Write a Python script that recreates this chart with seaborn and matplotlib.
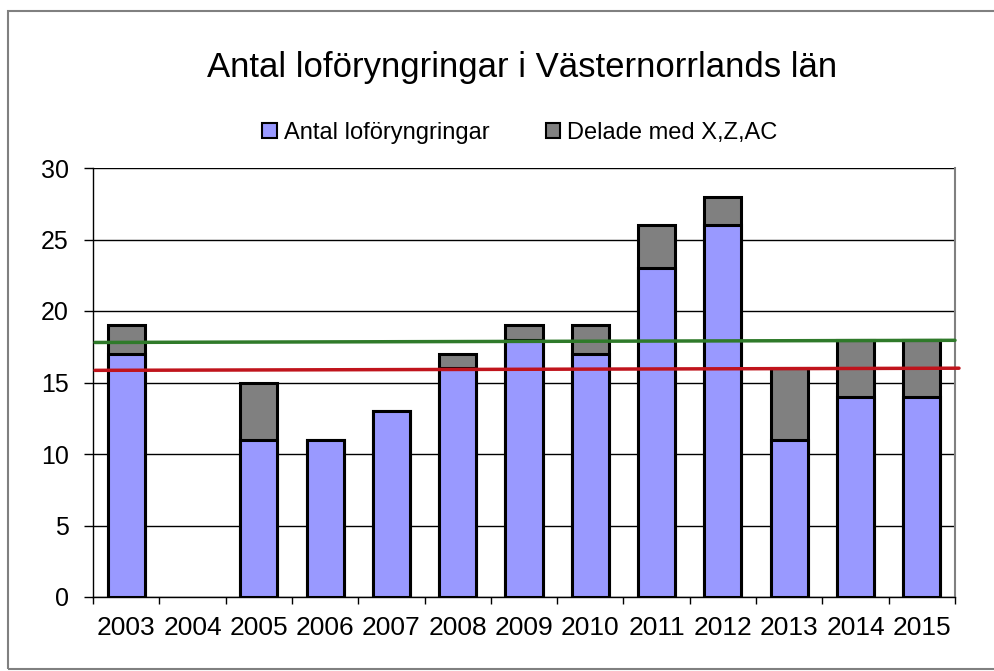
import matplotlib
matplotlib.use("Agg")
import matplotlib.pyplot as plt
import seaborn as sns
import pandas as pd
from matplotlib.patches import Rectangle, Patch

years = ["2003", "2004", "2005", "2006", "2007", "2008", "2009",
         "2010", "2011", "2012", "2013", "2014", "2015"]
antal = [17, 0, 11, 11, 13, 16, 18, 17, 23, 26, 11, 14, 14]
delade = [2, 0, 4, 0, 0, 1, 1, 2, 3, 2, 5, 4, 4]
green_line = [17.8, 17.95]
red_line = [15.85, 16.0]
title = "Antal loföryngringar i Västernorrlands län"
series_names = ["Antal loföryngringar", "Delade med X,Z,AC"]
yticks = [0, 5, 10, 15, 20, 25, 30]

sns.set_theme(style="white")
plt.rcParams['font.family'] = ['Liberation Sans', 'DejaVu Sans']
plt.rcParams['text.color'] = 'black'
plt.rcParams['xtick.color'] = 'black'
plt.rcParams['ytick.color'] = 'black'
plt.rcParams['xtick.labelcolor'] = 'black'
plt.rcParams['ytick.labelcolor'] = 'black'

df = pd.DataFrame({"year": years, "antal": antal, "delade": delade})
df["total"] = df["antal"] + df["delade"]
df_tot = df[df["total"] > 0]
df_ant = df[df["antal"] > 0]

fig = plt.figure(figsize=(9.95, 6.71), dpi=100)
fig.patch.set_facecolor("white")
ax = fig.add_axes([93/995, 1-597/671, (955-93)/995, (597-168)/671])

blue = "#9999FF"
grey = "#808080"

sns.barplot(data=df_tot, x="year", y="total", order=years, color=grey,
            width=0.56, edgecolor="black", linewidth=2.2, saturation=1, ax=ax)
sns.barplot(data=df_ant, x="year", y="antal", order=years, color=blue,
            width=0.56, edgecolor="black", linewidth=2.2, saturation=1, ax=ax)

ax.set_xlim(-0.5, 12.5)
ax.set_ylim(0, 30)
ax.set_yticks(yticks)
ax.set_yticklabels([str(t) for t in yticks], fontsize=18)
ax.set_xlabel("")
ax.set_ylabel("")
ax.yaxis.grid(True, color="black", linewidth=1)
ax.set_axisbelow(True)

ax.set_xticks(range(len(years)))
ax.set_xticklabels(years, fontsize=19)
ax.tick_params(axis="x", length=0, pad=13.5)
ax.set_xticks([i - 0.5 for i in range(len(years) + 1)], minor=True)
ax.tick_params(axis="x", which="minor", length=5, width=1, color="black", direction="out", bottom=True)
ax.tick_params(axis="y", length=6.5, width=1, color="black", direction="out", left=True, pad=11)

ax.spines["top"].set_visible(False)
ax.spines["right"].set_color("#808080")
ax.spines["right"].set_linewidth(1.5)
ax.spines["left"].set_color("black")
ax.spines["left"].set_linewidth(1)
ax.spines["bottom"].set_color("black")
ax.spines["bottom"].set_linewidth(1)

ax.plot([-0.47, 12.5], green_line, color="#2F7A2A", linewidth=2.5, zorder=5, clip_on=False)
ax.plot([-0.47, 12.56], red_line, color="#C0141C", linewidth=2.5, zorder=5, clip_on=False)

fig.text(522/995, 1-67/671, title, ha="center", va="center", fontsize=25)

handles = [Patch(facecolor=blue, edgecolor="black", linewidth=1.5),
           Patch(facecolor=grey, edgecolor="black", linewidth=1.5)]
fig.legend(handles, series_names, loc="center", bbox_to_anchor=(520/995, 1-133/671),
           ncol=2, frameon=False, fontsize=17, handlelength=0.6, handleheight=0.6,
           handletextpad=0.3, columnspacing=2.4, borderpad=0, borderaxespad=0)

fig.patches.append(Rectangle((8/995, 1-669/671), 1.0, (669-11)/671, transform=fig.transFigure,
                             fill=False, edgecolor="#808080", linewidth=1.5))

fig.savefig("out.png", dpi=100)
